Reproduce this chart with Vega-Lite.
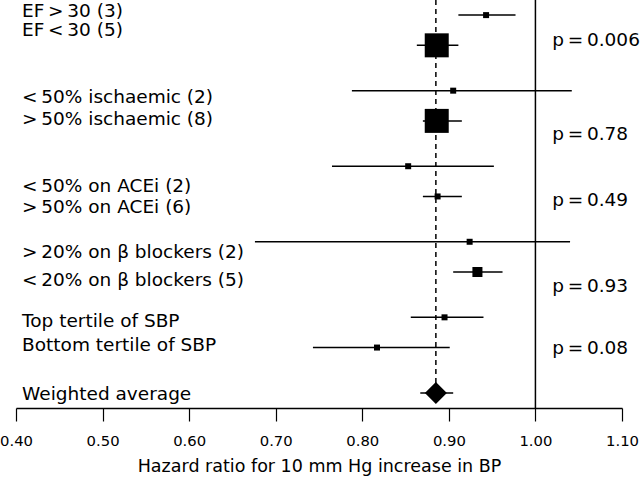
{
  "$schema": "https://vega.github.io/schema/vega-lite/v6.json",
  "width": 606,
  "height": 408,
  "autosize": "none",
  "padding": {"left": 16, "top": 0, "right": 18, "bottom": 69},
  "background": "white",
  "config": {"view": {"stroke": null}, "font": "DejaVu Sans"},
  "datasets": {
    "studies": [
      {"label": "EF\u2009>\u200930 (3)", "k": 1, "lk": 0.7, "lo": 0.911, "est": 0.943, "hi": 0.977, "w": 1},
      {"label": "EF\u2009<\u200930 (5)", "k": 3, "lk": 1.99, "lo": 0.863, "est": 0.886, "hi": 0.911, "w": 16},
      {"label": "<\u200950% ischaemic (2)", "k": 6, "lk": 6.44, "lo": 0.788, "est": 0.905, "hi": 1.042, "w": 1},
      {"label": ">\u200950% ischaemic (8)", "k": 8, "lk": 7.9, "lo": 0.870, "est": 0.886, "hi": 0.915, "w": 16},
      {"label": "<\u200950% on ACEi (2)", "k": 11, "lk": 12.33, "lo": 0.765, "est": 0.853, "hi": 0.952, "w": 1},
      {"label": ">\u200950% on ACEi (6)", "k": 13, "lk": 13.72, "lo": 0.870, "est": 0.887, "hi": 0.915, "w": 1},
      {"label": ">\u200920% on \u03b2 blockers (2)", "k": 16, "lk": 16.66, "lo": 0.676, "est": 0.924, "hi": 1.040, "w": 1},
      {"label": "<\u200920% on \u03b2 blockers (5)", "k": 18, "lk": 18.53, "lo": 0.905, "est": 0.933, "hi": 0.962, "w": 2.8},
      {"label": "Top tertile of SBP", "k": 21, "lk": 21.24, "lo": 0.856, "est": 0.895, "hi": 0.940, "w": 1},
      {"label": "Bottom tertile of SBP", "k": 23, "lk": 22.83, "lo": 0.743, "est": 0.817, "hi": 0.901, "w": 1}
    ],
    "overall": [
      {"label": "Weighted average", "k": 26, "lk": 26.08, "lo": 0.867, "est": 0.885, "hi": 0.905}
    ],
    "pvals": [
      {"p": "p\u2009=\u20090.006", "k": 2.65},
      {"p": "p\u2009=\u20090.78", "k": 8.89},
      {"p": "p\u2009=\u20090.49", "k": 13.24},
      {"p": "p\u2009=\u20090.93", "k": 18.93},
      {"p": "p\u2009=\u20090.08", "k": 23.01}
    ]
  },
  "layer": [
    {
      "data": {"values": [{"x": 1.0}]},
      "mark": {"type": "rule", "color": "black", "strokeWidth": 1.5},
      "encoding": {
        "x": {
          "field": "x", "type": "quantitative",
          "scale": {"domain": [0.4, 1.1], "nice": false, "zero": false},
          "axis": {
            "values": [0.4, 0.5, 0.6, 0.7, 0.8, 0.9, 1.0, 1.1],
            "format": ".2f",
            "title": "Hazard ratio for 10 mm Hg increase in BP",
            "grid": false,
            "tickSize": 13,
            "tickWidth": 1.2,
            "tickColor": "black",
            "domainColor": "black",
            "domainWidth": 1.5,
            "labelColor": "black",
            "labelFont": "DejaVu Sans",
            "labelFontSize": 14.8,
            "labelFlush": false,
            "labelOverlap": false,
            "labelPadding": 12,
            "titleFont": "DejaVu Sans",
            "titleFontSize": 17.5,
            "titleFontWeight": "normal",
            "titleColor": "black",
            "titlePadding": 10
          }
        },
        "y": {"datum": 0, "type": "quantitative", "scale": {"domain": [0, 27], "reverse": true, "nice": false, "zero": false}, "axis": null},
        "y2": {"datum": 27}
      }
    },
    {
      "data": {"values": [{"x": 0.885}]},
      "mark": {"type": "rule", "color": "black", "strokeWidth": 1.5, "strokeDash": [5, 4]},
      "encoding": {
        "x": {"field": "x", "type": "quantitative"},
        "y": {"datum": 0, "type": "quantitative"},
        "y2": {"datum": 26}
      }
    },
    {
      "data": {"name": "studies"},
      "mark": {"type": "rule", "color": "black", "strokeWidth": 1.5},
      "encoding": {
        "x": {"field": "lo", "type": "quantitative"},
        "x2": {"field": "hi"},
        "y": {"field": "k", "type": "quantitative"}
      }
    },
    {
      "data": {"name": "studies"},
      "mark": {"type": "point", "shape": "square", "filled": true, "color": "black", "opacity": 1},
      "encoding": {
        "x": {"field": "est", "type": "quantitative"},
        "y": {"field": "k", "type": "quantitative"},
        "size": {"field": "w", "type": "quantitative", "scale": {"type": "linear", "domain": [0, 16], "range": [0, 576], "zero": true}, "legend": null}
      }
    },
    {
      "data": {"name": "studies"},
      "mark": {"type": "text", "align": "left", "baseline": "middle", "fontSize": 18.5, "font": "DejaVu Sans", "color": "black"},
      "encoding": {
        "x": {"datum": 0.407},
        "y": {"field": "lk", "type": "quantitative"},
        "text": {"field": "label"}
      }
    },
    {
      "data": {"name": "overall"},
      "mark": {"type": "rule", "color": "black", "strokeWidth": 1.5},
      "encoding": {
        "x": {"field": "lo", "type": "quantitative"},
        "x2": {"field": "hi"},
        "y": {"field": "k", "type": "quantitative"}
      }
    },
    {
      "data": {"name": "overall"},
      "mark": {"type": "point", "shape": "diamond", "filled": true, "color": "black", "opacity": 1, "size": 484},
      "encoding": {
        "x": {"field": "est", "type": "quantitative"},
        "y": {"field": "k", "type": "quantitative"}
      }
    },
    {
      "data": {"name": "overall"},
      "mark": {"type": "text", "align": "left", "baseline": "middle", "fontSize": 18.5, "font": "DejaVu Sans", "color": "black"},
      "encoding": {
        "x": {"datum": 0.407},
        "y": {"field": "lk", "type": "quantitative"},
        "text": {"field": "label"}
      }
    },
    {
      "data": {"name": "pvals"},
      "mark": {"type": "text", "align": "left", "baseline": "middle", "fontSize": 18.5, "font": "DejaVu Sans", "color": "black"},
      "encoding": {
        "x": {"datum": 1.0195},
        "y": {"field": "k", "type": "quantitative"},
        "text": {"field": "p"}
      }
    }
  ]
}
